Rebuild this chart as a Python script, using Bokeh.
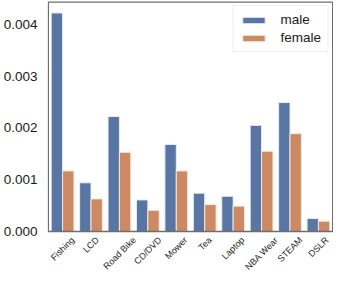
from bokeh.plotting import figure
from bokeh.models import (ColumnDataSource, FixedTicker, PrintfTickFormatter, Range1d,
                          Legend, LegendItem)
from bokeh.transform import dodge
from bokeh.core.properties import value
from bokeh.embed import file_html
from bokeh.resources import INLINE
import math

categories = ["Fishing", "LCD", "Road Bike", "CD/DVD", "Mower", "Tea", "Laptop", "NBA Wear", "STEAM", "DSLR"]
male = [0.00422, 0.00094, 0.00222, 0.00061, 0.00168, 0.00074, 0.00068, 0.00205, 0.00249, 0.00025]
female = [0.00117, 0.00063, 0.00153, 0.00041, 0.00117, 0.00052, 0.00049, 0.00155, 0.00189, 0.00020]
y_ticks = [0.0, 0.001, 0.002, 0.003, 0.004]
Y_TOP = 0.00443          # top of the axes box

# approximate Arial/Liberation Sans advance widths (per 1000 em) for label placement
_w = {"F": 611, "i": 222, "s": 500, "h": 556, "n": 556, "g": 556, "L": 556, "C": 722, "D": 722,
      "R": 722, "o": 556, "a": 556, "d": 556, " ": 278, "B": 667, "/": 278, "V": 667, "M": 833,
      "w": 722, "e": 556, "r": 333, "T": 611, "l": 222, "p": 556, "t": 278, "N": 722, "A": 667,
      "W": 944, "S": 667, "E": 667}
XFS = 9.0
def text_len(s):
    return sum(_w.get(c, 556) for c in s) * XFS / 1000.0

label_dx = [0.354 * text_len(c) for c in categories]

src = ColumnDataSource(dict(cat=categories, male=male, female=female,
                            zero=[0.0] * len(categories), dx=label_dx))

H = 275
ZERO_PX = 231            # pixels from figure top down to y = 0
y_end = Y_TOP * 1.007
y_start = -y_end * (H - ZERO_PX) / ZERO_PX

p = figure(x_range=categories, y_range=Range1d(y_start, y_end), width=333, height=H,
           output_backend="svg", toolbar_location=None,
           min_border_left=4, min_border_right=0, min_border_top=0, min_border_bottom=0)
p.x_range.range_padding = 0.006

r1 = p.vbar(x=dodge("cat", -0.2, range=p.x_range), top="male", width=0.4, source=src,
            fill_color="#5875a4", line_color="#e8ecf4", line_width=1)
r2 = p.vbar(x=dodge("cat", 0.2, range=p.x_range), top="female", width=0.4, source=src,
            fill_color="#cc8963", line_color="#f6e9e0", line_width=1)

# axes box (only around the data area)
p.quad(left=[0], right=[len(categories)], bottom=[0], top=[Y_TOP],
       fill_color=None, line_color="#6e6e6e", line_width=1.3)

p.xgrid.grid_line_color = None
p.ygrid.grid_line_color = None
p.outline_line_color = None
p.xaxis.visible = False

p.yaxis.ticker = FixedTicker(ticks=y_ticks)
p.yaxis.formatter = PrintfTickFormatter(format="%.3f")
ax = p.yaxis[0]
ax.axis_line_color = None
ax.major_tick_line_color = None
ax.minor_tick_line_color = None
ax.major_label_text_font = "Liberation Sans"
ax.major_label_text_color = "#1a1a1a"
ax.major_label_text_font_size = "13.5px"
ax.major_label_standoff = 4

p.text(x="cat", y="zero", text="cat", source=src, angle=math.pi / 4,
       x_offset="dx", y_offset=7, text_align="right", text_baseline="middle",
       text_font=value("Liberation Sans"), text_font_size="9px", text_color="#1a1a1a")

legend = Legend(items=[LegendItem(label="male", renderers=[r1]),
                       LegendItem(label="female", renderers=[r2])],
                location="top_right")
legend.label_text_font = "Liberation Sans"
legend.label_text_font_size = "13.5px"
legend.label_text_color = "#1a1a1a"
legend.glyph_width = 28
legend.glyph_height = 8
legend.label_standoff = 13
legend.spacing = 3
legend.padding = 6
legend.margin = 5
legend.border_line_color = "#dddddd"
legend.border_line_width = 1
legend.background_fill_alpha = 0.9
p.add_layout(legend)

open("out.html", "w").write(file_html(p, INLINE))
